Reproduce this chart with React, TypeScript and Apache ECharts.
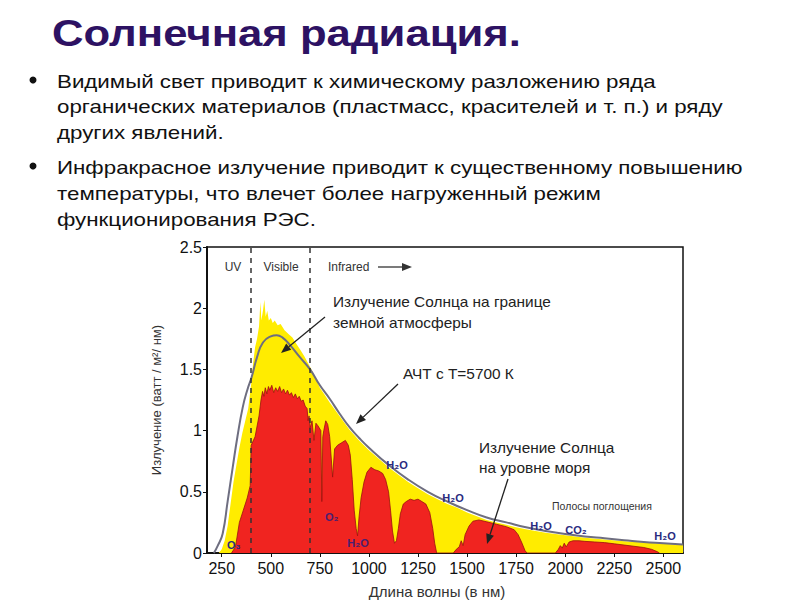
import React, { useEffect, useRef } from "react";
import * as echarts from "echarts";

// Wavelength ticks (nm)
const xTicks = [250, 500, 750, 1000, 1250, 1500, 1750, 2000, 2250, 2500];

// Blackbody (5700 K) curve
const bbLambda = [210, 230, 255, 280, 306, 330, 357, 380, 403, 430, 460, 500, 530, 560, 597, 648, 700, 750, 800, 850, 900, 950, 1000, 1100, 1200, 1300, 1400, 1500, 1600, 1700, 1800, 1900, 2000, 2100, 2200, 2300, 2400, 2500, 2600];
const bbValue = [0.0, 0.06, 0.16, 0.42, 0.70, 0.95, 1.19, 1.33, 1.44, 1.60, 1.72, 1.77, 1.78, 1.76, 1.70, 1.60, 1.50, 1.37, 1.26, 1.14, 1.03, 0.94, 0.86, 0.72, 0.60, 0.50, 0.42, 0.35, 0.29, 0.25, 0.21, 0.18, 0.155, 0.135, 0.12, 0.105, 0.09, 0.08, 0.07];

// Top of atmosphere irradiance
const toaLambda = [235, 250, 265, 280, 295, 310, 325, 340, 355, 370, 385, 400, 410, 420, 430, 440, 447, 452, 460, 467, 474, 482, 490, 500, 510, 520, 535, 550, 570, 590, 610, 630, 650, 670, 690, 710, 730, 750, 775, 800, 850, 900, 950, 1000, 1050, 1100, 1150, 1200, 1250, 1300, 1350, 1400, 1450, 1500, 1550, 1600, 1650, 1700, 1750, 1800, 1850, 1900, 1950, 2000, 2100, 2200, 2300, 2400, 2500, 2600];
const toaValue = [0, 0.03, 0.1, 0.22, 0.4, 0.58, 0.72, 0.86, 0.98, 1.08, 1.18, 1.38, 1.55, 1.68, 1.75, 1.85, 2.05, 1.9, 1.98, 2.07, 1.93, 1.98, 1.9, 1.92, 1.88, 1.9, 1.86, 1.87, 1.82, 1.79, 1.76, 1.71, 1.66, 1.61, 1.55, 1.49, 1.42, 1.35, 1.29, 1.23, 1.12, 1.01, 0.92, 0.84, 0.77, 0.70, 0.64, 0.58, 0.53, 0.48, 0.44, 0.40, 0.37, 0.33, 0.30, 0.27, 0.25, 0.23, 0.21, 0.195, 0.18, 0.165, 0.155, 0.145, 0.125, 0.11, 0.095, 0.085, 0.075, 0.065];

// Sea level irradiance
const seaLambda = [300, 320, 340, 360, 380, 395, 400, 420, 440, 450, 458, 465, 472, 480, 488, 495, 505, 515, 525, 535, 545, 555, 565, 575, 585, 595, 605, 615, 625, 635, 645, 655, 665, 675, 685, 690, 695, 700, 710, 720, 730, 740, 755, 760, 765, 770, 780, 790, 800, 815, 825, 840, 860, 880, 895, 905, 915, 925, 935, 942, 950, 960, 975, 990, 1010, 1030, 1050, 1070, 1085, 1100, 1110, 1120, 1130, 1140, 1150, 1160, 1175, 1190, 1210, 1230, 1250, 1270, 1290, 1310, 1325, 1335, 1345, 1430, 1445, 1460, 1470, 1480, 1490, 1510, 1530, 1560, 1600, 1650, 1700, 1740, 1760, 1780, 1795, 1805, 1950, 1965, 1975, 1985, 1995, 2005, 2020, 2040, 2070, 2100, 2150, 2200, 2250, 2300, 2350, 2400, 2440, 2470, 2480];
const seaValue = [0, 0.05, 0.25, 0.35, 0.45, 0.55, 0.88, 0.95, 1.12, 1.25, 1.32, 1.28, 1.35, 1.30, 1.36, 1.33, 1.37, 1.31, 1.35, 1.32, 1.36, 1.31, 1.34, 1.30, 1.33, 1.29, 1.31, 1.27, 1.30, 1.26, 1.28, 1.24, 1.25, 1.20, 1.18, 1.08, 1.12, 1.02, 1.08, 0.92, 1.06, 1.04, 1.0, 0.42, 0.95, 1.0, 1.08, 1.05, 0.95, 0.62, 0.85, 0.88, 0.9, 0.92, 0.88, 0.8, 0.6, 0.35, 0.2, 0.14, 0.3, 0.45, 0.58, 0.66, 0.7, 0.68, 0.67, 0.65, 0.6, 0.5, 0.35, 0.18, 0.08, 0.1, 0.2, 0.32, 0.4, 0.42, 0.44, 0.43, 0.44, 0.42, 0.40, 0.33, 0.2, 0.08, 0, 0, 0.03, 0.05, 0.1, 0.06, 0.15, 0.22, 0.26, 0.27, 0.255, 0.235, 0.215, 0.19, 0.15, 0.08, 0.02, 0, 0, 0.03, 0.06, 0.04, 0.08, 0.05, 0.09, 0.1, 0.1, 0.095, 0.09, 0.085, 0.075, 0.065, 0.055, 0.045, 0.03, 0.01, 0];

const bulletLines1 = [
  "Видимый свет приводит к химическому разложению ряда",
  "органических материалов (пластмасс, красителей и т. п.) и ряду",
  "других явлений.",
];
const bulletLines2 = [
  "Инфракрасное излучение приводит к существенному повышению",
  "температуры, что влечет более нагруженный режим",
  "функционирования РЭС.",
];

const zip = (a: number[], b: number[]) => a.map((v, i) => [v, b[i]]);

const FONT = '"Liberation Sans", Arial, sans-serif';

function arrow(x1: number, y1: number, x2: number, y2: number, color = "#222") {
  const ang = Math.atan2(y2 - y1, x2 - x1);
  const L = 10, W = 4;
  const bx = x2 - L * Math.cos(ang), by = y2 - L * Math.sin(ang);
  const px = -Math.sin(ang) * W, py = Math.cos(ang) * W;
  return [
    { type: "line", shape: { x1, y1, x2: bx, y2: by }, style: { stroke: color, lineWidth: 1.3 }, z: 100 },
    { type: "polygon", shape: { points: [[x2, y2], [bx + px, by + py], [bx - px, by - py]] }, style: { fill: color }, z: 100 },
  ];
}

function txt(text: string, x: number, y: number, size: number, opts: any = {}) {
  return {
    type: "text",
    x,
    y,
    z: 100,
    scaleX: opts.sx || 1,
    style: {
      text,
      fontSize: size,
      fontFamily: FONT,
      fill: opts.fill || "#222",
      fontWeight: opts.bold ? "bold" : "normal",
      textAlign: opts.align || "left",
      textVerticalAlign: "middle",
    },
  };
}

export default function App() {
  const ref = useRef<HTMLDivElement>(null);
  useEffect(() => {
    const chart = echarts.init(ref.current!, null, { renderer: "svg" });
    const chem = "#2a2a80";
    const graphic: any[] = [
      txt("Солнечная радиация.", 52, 33, 37, { bold: true, fill: "#2d1263", sx: 1.18 }),
      { type: "circle", shape: { cx: 33, cy: 80, r: 3.5 }, style: { fill: "#111" } },
      { type: "circle", shape: { cx: 33, cy: 166, r: 3.5 }, style: { fill: "#111" } },
      ...bulletLines1.map((t, i) => txt(t, 57, 81 + i * 25.5, 19, { fill: "#111", sx: 1.175 })),
      ...bulletLines2.map((t, i) => txt(t, 57, 167 + i * 26, 19, { fill: "#111", sx: 1.175 })),
      txt("UV", 233, 267, 12, { align: "center", fill: "#333" }),
      txt("Visible", 281, 267, 12, { align: "center", fill: "#333" }),
      txt("Infrared", 328, 267, 12, { fill: "#333" }),
      ...arrow(378, 267, 412, 267, "#333"),
      txt("Излучение Солнца на границе", 333, 302, 14, { sx: 1.1 }),
      txt("земной атмосферы", 333, 323, 14, { sx: 1.1 }),
      ...arrow(325, 317, 281, 353),
      txt("АЧТ с Т=5700 К", 403, 374, 14, { sx: 1.1 }),
      ...arrow(398, 384, 356, 424),
      txt("Излучение Солнца", 479, 448, 14, { sx: 1.1 }),
      txt("на уровне моря", 479, 468, 14, { sx: 1.1 }),
      ...arrow(508, 479, 487, 544),
      txt("Полосы поглощения", 552, 507, 10, { fill: "#333", sx: 1.05 }),
      txt("O₃", 227, 545, 11, { bold: true, fill: chem }),
      txt("O₂", 325, 517, 11, { bold: true, fill: "#4a1f70" }),
      txt("H₂O", 358, 543, 11, { bold: true, fill: "#4a1f70", align: "center" }),
      txt("H₂O", 397, 465, 11, { bold: true, fill: chem, align: "center" }),
      txt("H₂O", 453, 498, 11, { bold: true, fill: chem, align: "center" }),
      txt("H₂O", 541, 526, 11, { bold: true, fill: chem, align: "center" }),
      txt("CO₂", 576, 530, 11, { bold: true, fill: chem, align: "center" }),
      txt("H₂O", 665, 536, 11, { bold: true, fill: chem, align: "center" }),
      txt("Длина волны (в нм)", 437, 591, 15, { align: "center", fill: "#333" }),
    ];

    const option: any = {
      animation: false,
      backgroundColor: "#fff",
      grid: { left: 207, right: 117, top: 247, bottom: 47, show: true, borderColor: "#111", borderWidth: 1.5, backgroundColor: "transparent" },
      xAxis: {
        type: "value",
        min: 175,
        max: 2600,
        splitLine: { show: false },
        axisLine: { lineStyle: { color: "#111", width: 2 } },
        axisTick: { customValues: xTicks, length: 4, lineStyle: { color: "#111" } },
        axisLabel: { customValues: xTicks, fontSize: 16, color: "#111", fontFamily: FONT, margin: 7, formatter: (v: number) => String(v) },
      },
      yAxis: {
        type: "value",
        min: 0,
        max: 2.5,
        interval: 0.5,
        name: "Излучение (ватт / м²/ нм)",
        nameLocation: "middle",
        nameGap: 44,
        nameRotate: 90,
        nameTextStyle: { fontSize: 13, color: "#333", fontFamily: FONT },
        splitLine: { show: false },
        axisLine: { show: true, lineStyle: { color: "#111", width: 2 } },
        axisTick: { show: true, length: 4, lineStyle: { color: "#111" } },
        axisLabel: { fontSize: 16, color: "#111", fontFamily: FONT, margin: 5, formatter: (v: number) => String(v) },
      },
      series: [
        {
          type: "line",
          data: zip(toaLambda, toaValue),
          showSymbol: false,
          lineStyle: { width: 0 },
          areaStyle: { color: "#ffec00", opacity: 1 },
          itemStyle: { color: "#ffec00" },
          z: 1,
        },
        {
          type: "line",
          data: zip(seaLambda, seaValue),
          showSymbol: false,
          lineStyle: { width: 0.8, color: "#9a1010" },
          areaStyle: { color: "#f02420", opacity: 1 },
          z: 2,
        },
        {
          type: "line",
          data: zip(bbLambda, bbValue),
          showSymbol: false,
          smooth: true,
          lineStyle: { width: 2, color: "#6e6e80" },
          z: 3,
          markLine: {
            silent: true,
            symbol: ["none", "none"],
            label: { show: false },
            lineStyle: { type: [5, 5], color: "#333", width: 1.5 },
            data: [{ xAxis: 400 }, { xAxis: 700 }],
          },
        },
      ],
      graphic,
    };
    chart.setOption(option);
    return () => chart.dispose();
  }, []);
  return <div ref={ref} style={{ position: "absolute", left: 0, top: 0, width: 800, height: 600, background: "#fff" }} />;
}
